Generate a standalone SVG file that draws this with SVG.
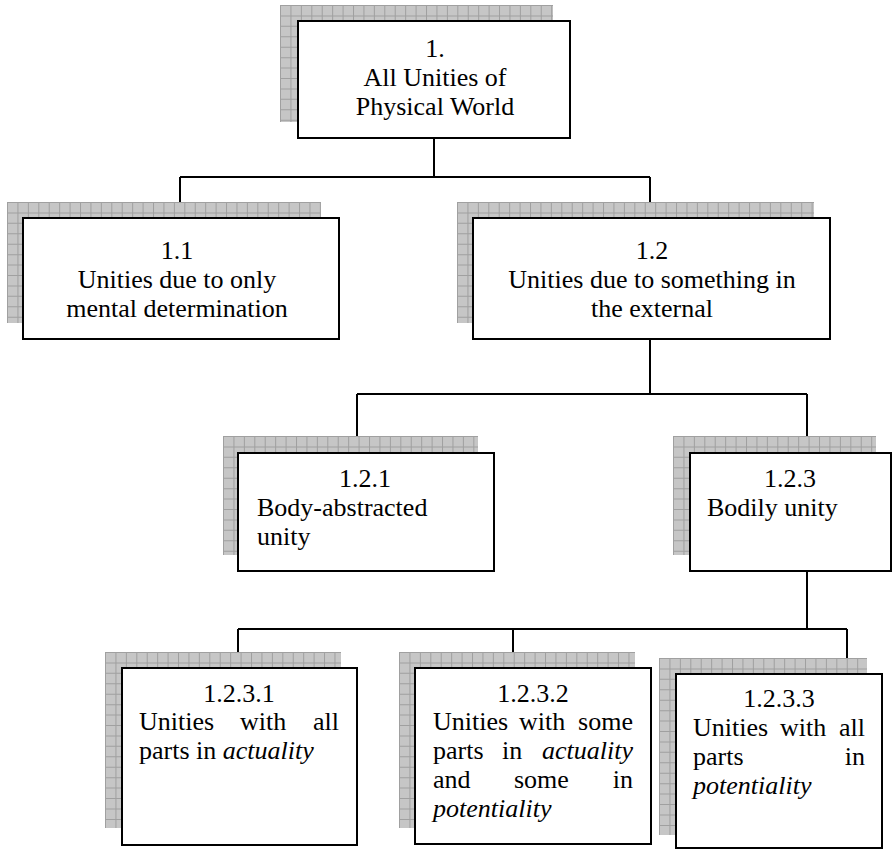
<svg xmlns="http://www.w3.org/2000/svg" width="892" height="851" viewBox="0 0 892 851" font-family="Times New Roman, Liberation Serif, serif" font-size="26">
<rect width="892" height="851" fill="#fff"/>
<g id="connectors" fill="none" stroke="#000" stroke-width="2">
<path d="M434 138V177M180 177H650M180 177V218M650 177V218"/>
<path d="M650 339V394M357 394H807M357 394V453M807 394V453"/>
<path d="M807 571V629M238 629H847M238 629V668M513 629V668M847 629V668"/>
</g>
<g id="n1">
<rect fill="#c6c6c6" x="280" y="5" width="273" height="117"/>
<path d="M280 63.5H553" stroke="#a0a0a0" stroke-width="117" stroke-dasharray="1 9.43"/>
<path d="M416.5 5V122" stroke="#a0a0a0" stroke-width="273" stroke-dasharray="1 9.43"/>
<rect fill="#fff" stroke="#000" stroke-width="2" x="298" y="21" width="272" height="117"/>
<text font-family="Times New Roman" text-anchor="middle" x="435" y="57">1.</text>
<text font-family="Times New Roman" text-anchor="middle" x="435" y="86">All Unities of</text>
<text font-family="Times New Roman" text-anchor="middle" x="435" y="115">Physical World</text>
</g>
<g id="n1_1">
<rect fill="#c6c6c6" x="7" y="202" width="314" height="121"/>
<path d="M7 262.5H321" stroke="#a0a0a0" stroke-width="121" stroke-dasharray="1 9.43"/>
<path d="M164 202V323" stroke="#a0a0a0" stroke-width="314" stroke-dasharray="1 9.43"/>
<rect fill="#fff" stroke="#000" stroke-width="2" x="23" y="218" width="316" height="121"/>
<text font-family="Times New Roman" text-anchor="middle" x="177" y="259">1.1</text>
<text font-family="Times New Roman" text-anchor="middle" x="177" y="288">Unities due to only</text>
<text font-family="Times New Roman" text-anchor="middle" x="177" y="317">mental determination</text>
</g>
<g id="n1_2">
<rect fill="#c6c6c6" x="457" y="202" width="357" height="121"/>
<path d="M457 262.5H814" stroke="#a0a0a0" stroke-width="121" stroke-dasharray="1 9.43"/>
<path d="M635.5 202V323" stroke="#a0a0a0" stroke-width="357" stroke-dasharray="1 9.43"/>
<rect fill="#fff" stroke="#000" stroke-width="2" x="473" y="218" width="357" height="121"/>
<text font-family="Times New Roman" text-anchor="middle" x="652" y="259">1.2</text>
<text font-family="Times New Roman" text-anchor="middle" x="652" y="288">Unities due to something in</text>
<text font-family="Times New Roman" text-anchor="middle" x="652" y="317">the external</text>
</g>
<g id="n1_2_1">
<rect fill="#c6c6c6" x="223" y="436" width="255" height="119"/>
<path d="M223 495.5H478" stroke="#a0a0a0" stroke-width="119" stroke-dasharray="1 9.43"/>
<path d="M350.5 436V555" stroke="#a0a0a0" stroke-width="255" stroke-dasharray="1 9.43"/>
<rect fill="#fff" stroke="#000" stroke-width="2" x="238" y="453" width="256" height="118"/>
<text font-family="Times New Roman" text-anchor="middle" x="365" y="487">1.2.1</text>
<text font-family="Times New Roman" x="257" y="516">Body-abstracted</text>
<text font-family="Times New Roman" x="257" y="545">unity</text>
</g>
<g id="n1_2_3">
<rect fill="#c6c6c6" x="673" y="436" width="203" height="119"/>
<path d="M673 495.5H876" stroke="#a0a0a0" stroke-width="119" stroke-dasharray="1 9.43"/>
<path d="M774.5 436V555" stroke="#a0a0a0" stroke-width="203" stroke-dasharray="1 9.43"/>
<rect fill="#fff" stroke="#000" stroke-width="2" x="690" y="453" width="201" height="118"/>
<text font-family="Times New Roman" text-anchor="middle" x="790" y="487">1.2.3</text>
<text font-family="Times New Roman" x="707" y="516">Bodily unity</text>
</g>
<g id="n1_2_3_1">
<rect fill="#c6c6c6" x="105" y="652" width="236" height="176"/>
<path d="M105 740H341" stroke="#a0a0a0" stroke-width="176" stroke-dasharray="1 9.43"/>
<path d="M223 652V828" stroke="#a0a0a0" stroke-width="236" stroke-dasharray="1 9.43"/>
<rect fill="#fff" stroke="#000" stroke-width="2" x="122" y="668" width="235" height="177"/>
<text font-family="Times New Roman" text-anchor="middle" x="239" y="702">1.2.3.1</text>
<text font-family="Times New Roman" x="139" y="730">Unities</text>
<text font-family="Times New Roman" x="240" y="730">with</text>
<text font-family="Times New Roman" text-anchor="end" x="339" y="730">all</text>
<text font-family="Times New Roman" x="139" y="759">parts in <tspan font-style="italic">actuality</tspan></text>
</g>
<g id="n1_2_3_2">
<rect fill="#c6c6c6" x="399" y="652" width="236" height="176"/>
<path d="M399 740H635" stroke="#a0a0a0" stroke-width="176" stroke-dasharray="1 9.43"/>
<path d="M517 652V828" stroke="#a0a0a0" stroke-width="236" stroke-dasharray="1 9.43"/>
<rect fill="#fff" stroke="#000" stroke-width="2" x="415" y="668" width="236" height="176"/>
<text font-family="Times New Roman" text-anchor="middle" x="533" y="702">1.2.3.2</text>
<text font-family="Times New Roman" x="433" y="730">Unities</text>
<text font-family="Times New Roman" x="519" y="730">with</text>
<text font-family="Times New Roman" text-anchor="end" x="633" y="730">some</text>
<text font-family="Times New Roman" x="433" y="759">parts</text>
<text font-family="Times New Roman" x="502" y="759">in</text>
<text font-family="Times New Roman" font-style="italic" text-anchor="end" x="633" y="759">actuality</text>
<text font-family="Times New Roman" x="433" y="788">and</text>
<text font-family="Times New Roman" x="514" y="788">some</text>
<text font-family="Times New Roman" text-anchor="end" x="633" y="788">in</text>
<text font-family="Times New Roman" font-style="italic" x="433" y="817">potentiality</text>
</g>
<g id="n1_2_3_3">
<rect fill="#c6c6c6" x="659" y="658" width="208" height="177"/>
<path d="M659 746.5H867" stroke="#a0a0a0" stroke-width="177" stroke-dasharray="1 9.43"/>
<path d="M763 658V835" stroke="#a0a0a0" stroke-width="208" stroke-dasharray="1 9.43"/>
<rect fill="#fff" stroke="#000" stroke-width="2" x="676" y="674" width="206" height="174"/>
<text font-family="Times New Roman" text-anchor="middle" x="779" y="707">1.2.3.3</text>
<text font-family="Times New Roman" x="693" y="736">Unities</text>
<text font-family="Times New Roman" x="780" y="736">with</text>
<text font-family="Times New Roman" text-anchor="end" x="865" y="736">all</text>
<text font-family="Times New Roman" x="693" y="765">parts</text>
<text font-family="Times New Roman" text-anchor="end" x="865" y="765">in</text>
<text font-family="Times New Roman" font-style="italic" x="693" y="794">potentiality</text>
</g>
</svg>
